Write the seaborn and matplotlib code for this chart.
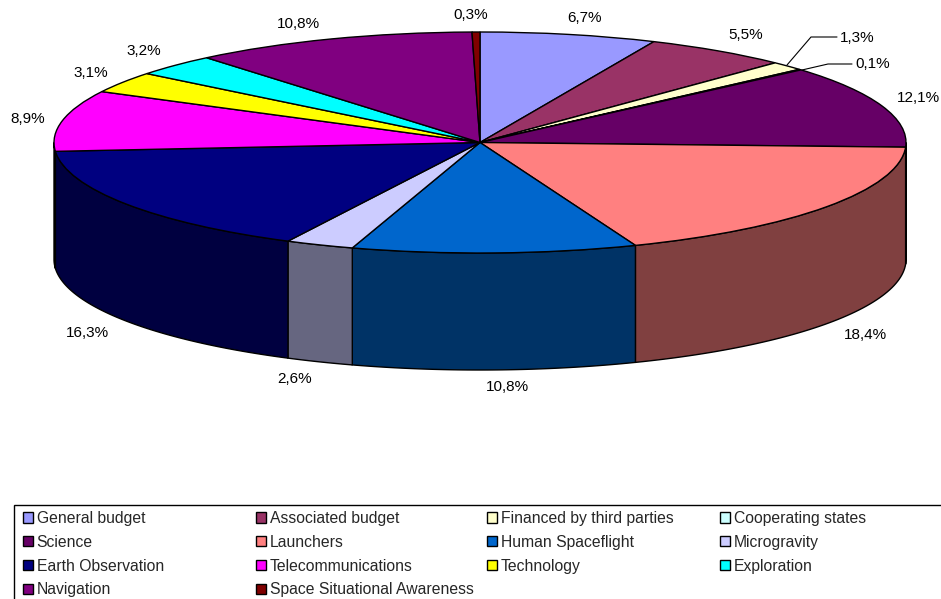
import numpy as np
import matplotlib
matplotlib.use('Agg')
import matplotlib.pyplot as plt
from matplotlib.lines import Line2D
from matplotlib.patches import Rectangle
import seaborn as sns

categories = ['General budget', 'Associated budget', 'Financed by third parties', 'Cooperating states',
              'Science', 'Launchers', 'Human Spaceflight', 'Microgravity',
              'Earth Observation', 'Telecommunications', 'Technology', 'Exploration',
              'Navigation', 'Space Situational Awareness']
values = [6.7, 5.5, 1.3, 0.1, 12.1, 18.4, 10.8, 2.6, 16.3, 8.9, 3.1, 3.2, 10.8, 0.3]
colors = ['#9999FF', '#993366', '#FFFFCC', '#CCFFFF', '#660066', '#FF8080', '#0066CC', '#CCCCFF',
          '#000080', '#FF00FF', '#FFFF00', '#00FFFF', '#800080', '#800000']

# label centres in pixels of the 941x599 picture
label_pos = [(585, 18), (746, 35), (857, 38), (873, 64), (918, 98), (865, 335), (507, 387),
             (295, 379), (87, 333), (28, 119), (91, 73), (144, 51), (298, 24), (471, 15)]

W, H = 941, 599

sns.set_theme(style='white')
plt.rcParams['font.family'] = ['Liberation Sans', 'DejaVu Sans']
palette = sns.color_palette(colors)


def px(x, y):
    # picture pixels to figure fraction
    return x / W, 1 - y / H


fig = plt.figure(figsize=(W / 100, H / 100), dpi=100, facecolor='white')

# the top ellipse fills this axes, so the pie is squashed by the axes shape
left, top, right, bottom = 54, 32, 906, 253
ax = fig.add_axes([left / W, 1 - bottom / H, (right - left) / W, (bottom - top) / H])
depth = 117 / ((bottom - top) / 2)

wedges, _ = ax.pie(values, colors=palette, startangle=90, counterclock=False, radius=1,
                   wedgeprops=dict(edgecolor='black', linewidth=1.0, clip_on=False, zorder=3))
ax.set_aspect('auto')
ax.set_xlim(-1, 1)
ax.set_ylim(-1, 1)
ax.axis('off')

# side wall, only the front half of the cylinder can be seen
edges = np.cumsum([0] + values) / sum(values) * 360
for i, col in enumerate(palette):
    t0, t1 = max(edges[i], 90), min(edges[i + 1], 270)
    if t1 <= t0:
        continue
    t = np.radians(np.linspace(t0, t1, 60))
    xs = np.concatenate([np.sin(t), np.sin(t[::-1])])
    ys = np.concatenate([np.cos(t), np.cos(t[::-1]) - depth])
    ax.fill(xs, ys, facecolor=np.array(col) * 0.5, edgecolor='black', linewidth=1.0,
            clip_on=False, zorder=2)

for val, (x, y) in zip(values, label_pos):
    fx, fy = px(x, y)
    fig.text(fx, fy, f'{val:.1f}%'.replace('.', ','), ha='center', va='center',
             fontsize=11, color='black')

# leader lines for the two thin slices
for pts in ([(787, 65), (811, 37), (837, 37)], [(802, 70), (828, 64), (852, 64)]):
    fxy = [px(x, y) for x, y in pts]
    fig.add_artist(Line2D([p[0] for p in fxy], [p[1] for p in fxy], color='black', linewidth=0.8))

# legend frame runs off the right and bottom of the picture
fx, fy = px(14, 610)
fig.add_artist(Rectangle((fx, fy), 1.0, (610 - 505) / H, transform=fig.transFigure,
                         facecolor='white', edgecolor='black', linewidth=1.0))

# one legend per column so the columns stay evenly spaced
for c, x0 in enumerate([19, 252, 483, 716]):
    leg = fig.legend(handles=wedges[c::4], labels=categories[c::4], loc='upper left',
                     bbox_to_anchor=px(x0, 507), borderaxespad=0, borderpad=0.25, frameon=False,
                     fontsize=11.3, ncol=1, handlelength=0.65, handleheight=0.65,
                     handletextpad=0.22, labelspacing=0.56)
    leg.set_zorder(5)

fig.savefig('out.png', dpi=100)
